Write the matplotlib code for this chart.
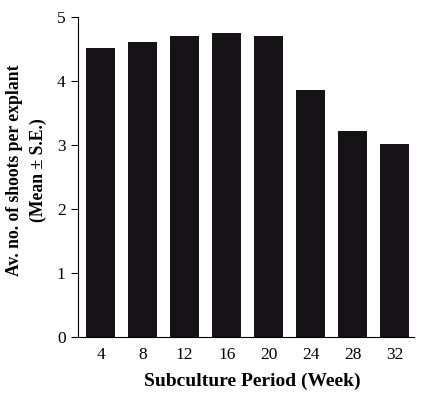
import matplotlib
matplotlib.use("Agg")
import matplotlib.pyplot as plt
import numpy as np

weeks = ["4", "8", "12", "16", "20", "24", "28", "32"]
shoots = [4.52, 4.61, 4.70, 4.75, 4.70, 3.86, 3.22, 3.01]

plt.rcParams['font.family'] = ['Liberation Serif', 'DejaVu Serif']

fig = plt.figure(figsize=(4.22, 3.97), dpi=100)
ax = fig.add_axes([78/422, 60/397, 336/422, 320/397])

x = np.arange(len(weeks))
ax.bar(x, shoots, width=0.7, color="#151315")

ax.set_xlim(-0.54, 7.46)
ax.set_ylim(0, 5)
ax.set_xticks(x)
ax.set_xticklabels(weeks, fontsize=12.5)
ax.set_yticks(range(6))
ax.tick_params(axis="y", labelsize=12.5, length=5, direction="out", pad=4)
ax.tick_params(axis="x", length=0, pad=7)

ax.spines["top"].set_visible(False)
ax.spines["right"].set_visible(False)

ax.set_xlabel("Subculture Period (Week)", fontsize=14, fontweight="bold")
ax.xaxis.set_label_coords(0.518, -0.11)
ax.set_ylabel("Av. no. of shoots per explant\n(Mean \u00b1 S.E.)", fontsize=12.7,
              fontweight="bold", linespacing=1.45)
ax.yaxis.set_label_coords(-0.093, 0.52)

fig.savefig("out.png", dpi=100)
